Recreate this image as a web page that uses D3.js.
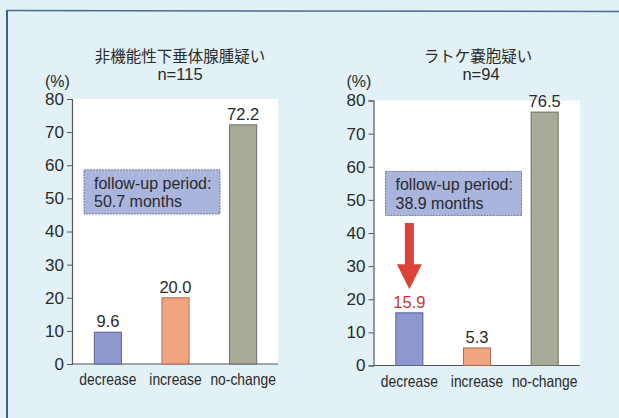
<!DOCTYPE html>
<html>
<head>
<meta charset="utf-8">
<script src="https://cdn.jsdelivr.net/npm/d3@7/dist/d3.min.js"></script>
<style>
  html, body { margin: 0; padding: 0; background: #ffffff; }
  svg { display: block; }
</style>
</head>
<body>
<svg id="chart" width="619" height="418"></svg>
<script>
// ---- data ----
const categories = ["decrease", "increase", "no-change"];
const valuesLeft = [9.6, 20.0, 72.2];
const valuesRight = [15.9, 5.3, 76.5];
const yTicks = [0, 10, 20, 30, 40, 50, 60, 70, 80];
const titles = ["非機能性下垂体腺腫疑い", "ラトケ嚢胞疑い"];
const subtitles = ["n=115", "n=94"];
const followUp = ["50.7 months", "38.9 months"];
const barColors = ["#8e97d0", "#f0a57e", "#aaaa99"];
const barStroke = ["#5a6290", "#a8705a", "#6e6e62"];

const svg = d3.select("#chart");
const W = 619, H = 418;

// background
svg.append("rect").attr("x", 0).attr("y", 0).attr("width", W).attr("height", H).attr("fill", "#e2f1f6");
// frame lines (left & top)
svg.append("line").attr("x1", 7).attr("x2", 7).attr("y1", 10).attr("y2", H)
  .attr("stroke", "#3d5f96").attr("stroke-width", 2);
svg.append("line").attr("x1", 7).attr("x2", W).attr("y1", 10.5).attr("y2", 11.5)
  .attr("stroke", "#4a6a9a").attr("stroke-width", 1.5);

const panels = [
  { ax: 72, y0: 364, y80: 99, right: 278, values: valuesLeft, titleX: 180, highlight: false },
  { ax: 373.5, y0: 365.5, y80: 100.5, right: 580, values: valuesRight, titleX: 478, highlight: true }
];

panels.forEach((p, i) => {
  const g = svg.append("g");
  const y = d3.scaleLinear().domain([0, 80]).range([p.y0, p.y80]);
  const x = d3.scaleBand().domain(categories).range([p.ax, p.ax + 207])
    .paddingInner(0.6).paddingOuter(0.33);

  // white plot area
  g.append("rect").attr("x", p.ax).attr("y", y(80))
    .attr("width", p.right - p.ax).attr("height", y(0) - y(80)).attr("fill", "#ffffff");

  // titles
  g.append("text").attr("x", p.titleX).attr("y", 55).attr("text-anchor", "middle")
    .attr("dominant-baseline", "central")
    .attr("font-family", "'Noto Sans CJK JP', sans-serif").attr("font-size", 15.5)
    .attr("fill", "#2a2a2a").text(titles[i]);
  g.append("text").attr("x", p.titleX + (i === 1 ? 3 : 0)).attr("y", 74).attr("text-anchor", "middle")
    .attr("dominant-baseline", "central")
    .attr("font-family", "'Liberation Sans', Arial, sans-serif").attr("font-size", 16.5)
    .attr("fill", "#2a2a2a").text(subtitles[i]);
  g.append("text").attr("x", p.ax - 27).attr("y", 81.5)
    .attr("dominant-baseline", "central")
    .attr("font-family", "'Liberation Sans', Arial, sans-serif").attr("font-size", 16)
    .attr("fill", "#2a2a2a").text("(%)");

  // y axis
  const yAxis = d3.axisLeft(y).tickValues(yTicks).tickSize(5).tickPadding(3);
  const ya = g.append("g").attr("transform", `translate(${p.ax},0)`).call(yAxis);
  ya.select(".domain").attr("stroke", "#555").attr("stroke-width", 1.2);
  ya.selectAll(".tick line").attr("stroke", "#555");
  ya.selectAll(".tick text").attr("font-family", "'Liberation Sans', Arial, sans-serif")
    .attr("font-size", 17).attr("fill", "#2a2a2a");

  // x axis baseline
  g.append("line").attr("x1", p.ax).attr("x2", p.right).attr("y1", y(0)).attr("y2", y(0))
    .attr("stroke", "#555").attr("stroke-width", 1.2);

  // category labels (condensed look)
  g.selectAll(".cat").data(categories).enter().append("text")
    .attr("x", d => x(d) + x.bandwidth() / 2).attr("y", y(0) + 15)
    .attr("text-anchor", "middle").attr("dominant-baseline", "central")
    .attr("font-family", "'Liberation Sans', Arial, sans-serif").attr("font-size", 16.5)
    .attr("fill", "#2a2a2a").text(d => d)
    .each(function () {
      const len = this.getComputedTextLength();
      d3.select(this).attr("textLength", len * 0.84).attr("lengthAdjust", "spacingAndGlyphs");
    });

  // bars
  g.selectAll(".bar").data(p.values).enter().append("rect")
    .attr("x", (d, j) => x(categories[j])).attr("y", d => y(d))
    .attr("width", x.bandwidth()).attr("height", d => y(0) - y(d))
    .attr("fill", (d, j) => barColors[j]).attr("stroke", (d, j) => barStroke[j]).attr("stroke-width", 1);

  // value labels
  g.selectAll(".val").data(p.values).enter().append("text")
    .attr("x", (d, j) => x(categories[j]) + x.bandwidth() / 2).attr("y", d => y(d) - 11)
    .attr("text-anchor", "middle").attr("dominant-baseline", "central")
    .attr("font-family", "'Liberation Sans', Arial, sans-serif").attr("font-size", 16.5)
    .attr("fill", (d, j) => (p.highlight && j === 0) ? "#c8352e" : "#2a2a2a")
    .text(d => d3.format(".1f")(d));

  // annotation box
  const bx = p.ax + 12, bw = 136;
  g.append("rect").attr("x", bx).attr("y", y(58.6)).attr("width", bw).attr("height", y(45.3) - y(58.6))
    .attr("fill", "#aab5de").attr("stroke", "#6b78a6").attr("stroke-width", 1)
    .attr("stroke-dasharray", "2,1");
  g.append("text").attr("x", bx + 10).attr("y", y(54.5)).attr("dominant-baseline", "central")
    .attr("font-family", "'Liberation Sans', Arial, sans-serif").attr("font-size", 16)
    .attr("fill", "#2a2a2a").text("follow-up period:");
  g.append("text").attr("x", bx + 10).attr("y", y(49)).attr("dominant-baseline", "central")
    .attr("font-family", "'Liberation Sans', Arial, sans-serif").attr("font-size", 16)
    .attr("fill", "#2a2a2a").text(followUp[i]);

  // red arrow in right panel
  if (p.highlight) {
    const cx = x("decrease") + x.bandwidth() / 2;
    const sw = 4.5, hw = 12.5;
    const yTop = y(43), yHead = y(30.6), yTip = y(23);
    const path = `M${cx - sw},${yTop} L${cx + sw},${yTop} L${cx + sw},${yHead} L${cx + hw},${yHead} L${cx},${yTip} L${cx - hw},${yHead} L${cx - sw},${yHead} Z`;
    g.append("path").attr("d", path).attr("fill", "#db4238");
  }
});
</script>
</body>
</html>
